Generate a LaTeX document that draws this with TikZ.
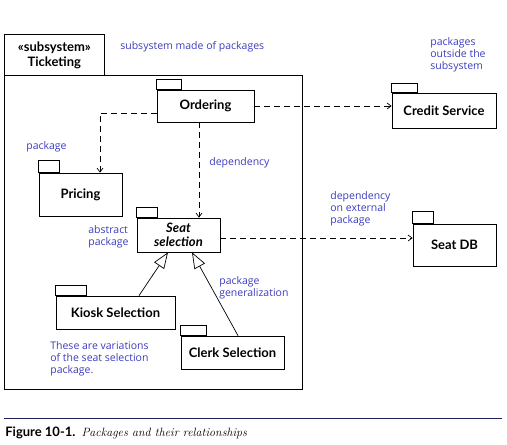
\documentclass[tikz,border=0pt]{standalone}
\usepackage{fontspec}
\setsansfont{Lato}
\newfontfamily\notefont{Open Sans}
\usetikzlibrary{arrows.meta}
\definecolor{note}{RGB}{60,60,190}
\definecolor{rulecol}{RGB}{30,30,90}
\tikzset{every node/.style={inner sep=0pt,font=\sffamily}}

\begin{document}
\begin{tikzpicture}[x=1pt,y=-1pt,line width=0.7pt]
\useasboundingbox (0,0) rectangle (507,445);

\tikzstyle{p}=[draw,shape=rectangle,font=\sffamily\bfseries\fontsize{13}{15}\selectfont,align=center]
\tikzstyle{n}=[note,align=left,anchor=north west,font=\notefont\fontsize{10.5}{12.3}\selectfont]
\tikzstyle{dep}=[dash pattern=on 6pt off 4pt,-{Straight Barb[length=4pt,width=6pt]}]
\tikzstyle{gen}=[-{Triangle[open,length=16pt,width=12pt]}]

% subsystem frame
\node[p,minimum width=100pt,minimum height=41pt,anchor=north west] (T) at (4,34) {«subsystem»\\Ticketing};
\node[draw,minimum width=298pt,minimum height=314pt,anchor=north west] (S) at (4,75) {};

% packages
\node[p,minimum width=97pt,minimum height=32pt] (Ordering) at (205.5,106) {Ordering};
\node[p,minimum width=83pt,minimum height=43pt] (Pricing) at (80.5,194.5) {Pricing};
\node[p,minimum width=83pt,minimum height=34pt,font=\sffamily\bfseries\itshape\fontsize{13}{14}\selectfont] (Seat) at (178.5,235) {Seat\\selection};
\node[p,minimum width=119pt,minimum height=33pt] (Kiosk) at (115.5,312.5) {Kiosk Selection};
\node[p,minimum width=103pt,minimum height=33pt] (Clerk) at (232.5,352.5) {Clerk Selection};
\node[p,minimum width=104pt,minimum height=35pt] (Credit) at (444,110.5) {Credit Service};
\node[p,minimum width=83pt,minimum height=42pt] (SeatDB) at (454.5,245) {Seat DB};

% tabs
\foreach \x/\w/\h in {Ordering/25/10,Pricing/21/12,Seat/21/10,Kiosk/31/10,Clerk/26/10,Credit/26/9,SeatDB/21/12}
  \draw (\x.north west) rectangle ++(\w,-\h);

% dependencies
\coordinate (o1) at ([xshift=-6.5pt]Ordering.south);
\coordinate (s1) at ([yshift=-3pt]Seat.east);
\draw[dep] (Ordering.east) -- (Ordering.east -| Credit.west);
\draw[dep] ([yshift=-7pt]Ordering.west) -| ([xshift=19.5pt]Pricing.north);
\draw[dep] (o1) -- (o1 |- Seat.north);
\draw[dep] (s1) -- (s1 -| SeatDB.west);

% generalization
\draw[gen] ([xshift=23.5pt]Kiosk.north) -- ([xshift=-10.5pt]Seat.south);
\draw[gen] ([xshift=5.5pt]Clerk.north) -- ([xshift=13.5pt]Seat.south);

% notes
\node[n] (n1) at (120,41) {subsystem made of packages};
\node[n] (n2) at (430,37) {packages\\outside the\\subsystem};
\node[n] (n3) at (26,141) {package};
\node[n] (n4) at (209,157) {dependency};
\node[n] (n5) at (88,225) {abstract\\package};
\node[n] (n6) at (330,191) {dependency\\on external\\package};
\node[n] (n7) at (219,276) {package\\generalization};
\node[n] (n8) at (50,341) {These are variations\\of the seat selection\\package.};

% caption
\draw[rulecol,line width=0.8pt] (4,418) -- (502,418);
\node[anchor=base west,font=\sffamily\fontsize{12}{14}\selectfont] (cap) at (5,436) {{\bfseries\fontsize{13}{14}\selectfont Figure 10-1.}\enspace\rmfamily\mdseries\itshape Packages and their relationships};

\end{tikzpicture}
\end{document}
